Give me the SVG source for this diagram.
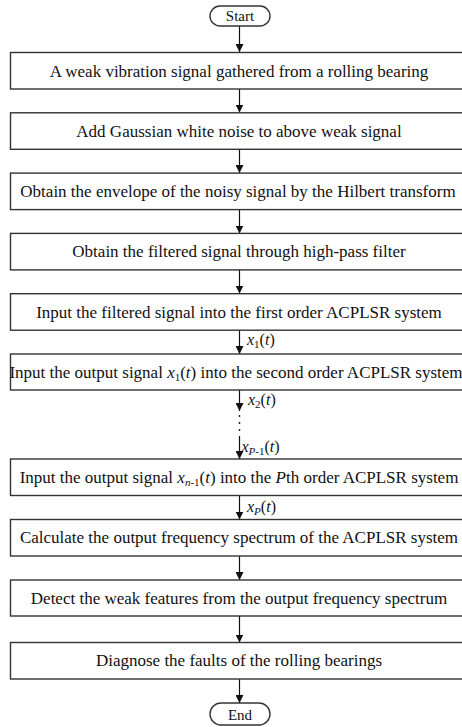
<svg xmlns="http://www.w3.org/2000/svg" width="462" height="727" viewBox="0 0 462 727">
<defs>
<marker id="ah" markerWidth="8" markerHeight="8" refX="6" refY="3" orient="auto" markerUnits="userSpaceOnUse" viewBox="0 0 6 6">
<path d="M0,0 L6,3 L0,6 z" fill="#111"/>
</marker>
<style>
.box{fill:#fff;stroke:#333;stroke-width:1.4}
text{font-family:'Liberation Serif','Times New Roman','DejaVu Serif',serif;fill:#111}
.t{font-size:17px;text-anchor:middle}
.ts{font-size:16px}
.sub{font-size:11px}
.i{font-style:italic}
.c{fill:none;stroke:#111;stroke-width:1.2}
</style>
</defs>
<g id="connectors">
<line class="c" x1="239.5" y1="26" x2="239.5" y2="52" marker-end="url(#ah)"/>
<line class="c" x1="239.5" y1="89" x2="239.5" y2="112.5" marker-end="url(#ah)"/>
<line class="c" x1="239.5" y1="149" x2="239.5" y2="173" marker-end="url(#ah)"/>
<line class="c" x1="239.5" y1="209.5" x2="239.5" y2="233.5" marker-end="url(#ah)"/>
<line class="c" x1="239.5" y1="270" x2="239.5" y2="293.5" marker-end="url(#ah)"/>
<line class="c" x1="239.5" y1="330" x2="239.5" y2="354" marker-end="url(#ah)"/>
<line class="c" x1="239.5" y1="390" x2="239.5" y2="411" marker-end="url(#ah)"/>
<circle cx="239.5" cy="416" r="0.9" fill="#111"/>
<circle cx="239.5" cy="423" r="0.9" fill="#111"/>
<circle cx="239.5" cy="430" r="0.9" fill="#111"/>
<line class="c" x1="239.5" y1="436" x2="239.5" y2="459" marker-end="url(#ah)"/>
<line class="c" x1="239.5" y1="495.5" x2="239.5" y2="519.5" marker-end="url(#ah)"/>
<line class="c" x1="239.5" y1="556" x2="239.5" y2="580" marker-end="url(#ah)"/>
<line class="c" x1="239.5" y1="616" x2="239.5" y2="642.5" marker-end="url(#ah)"/>
<line class="c" x1="239.5" y1="679" x2="239.5" y2="703" marker-end="url(#ah)"/>
<text class="ts" x="247" y="345"><tspan class="i">x</tspan><tspan class="sub" dy="3">1</tspan><tspan dy="-3">(</tspan><tspan class="i">t</tspan>)</text>
<text class="ts" x="248" y="405"><tspan class="i">x</tspan><tspan class="sub" dy="3">2</tspan><tspan dy="-3">(</tspan><tspan class="i">t</tspan>)</text>
<text class="ts" x="241.5" y="452"><tspan class="i">x</tspan><tspan class="sub i" dy="3">P</tspan><tspan class="sub">-1</tspan><tspan dy="-3">(</tspan><tspan class="i">t</tspan>)</text>
<text class="ts" x="247" y="512"><tspan class="i">x</tspan><tspan class="sub i" dy="3">P</tspan><tspan dy="-3">(</tspan><tspan class="i">t</tspan>)</text>
</g>
<g id="start">
<rect class="box" x="210" y="6" width="60" height="20" rx="10"/>
<text class="t" x="240" y="21" style="font-size:15px">Start</text>
</g>
<g id="n1">
<rect class="box" x="10.5" y="52.5" width="462" height="36.5"/>
<text class="t" x="239" y="76.5">A weak vibration signal gathered from a rolling bearing</text>
</g>
<g id="n2">
<rect class="box" x="10.5" y="112.8" width="462" height="36.5"/>
<text class="t" x="239" y="136.8">Add Gaussian white noise to above weak signal</text>
</g>
<g id="n3">
<rect class="box" x="10.5" y="173.1" width="462" height="36.5"/>
<text class="t" x="238" y="197">Obtain the envelope of the noisy signal by the Hilbert transform</text>
</g>
<g id="n4">
<rect class="box" x="10.5" y="233.4" width="462" height="36.5"/>
<text class="t" x="239" y="257.3">Obtain the filtered signal through high-pass filter</text>
</g>
<g id="n5">
<rect class="box" x="10.5" y="293.7" width="462" height="36.5"/>
<text class="t" x="239" y="317.6">Input the filtered signal into the first order ACPLSR system</text>
</g>
<g id="n6">
<rect class="box" x="10.5" y="354" width="462" height="36"/>
<text class="t" x="236" y="377.6">Input the output signal <tspan class="i">x</tspan><tspan class="sub" dy="3">1</tspan><tspan dy="-3">(</tspan><tspan class="i">t</tspan>) into the second order ACPLSR system</text>
</g>
<g id="n7">
<rect class="box" x="10.5" y="459" width="462" height="36.5"/>
<text class="t" x="239" y="482.8">Input the output signal <tspan class="i">x</tspan><tspan class="sub i" dy="3">n</tspan><tspan class="sub">-1</tspan><tspan dy="-3">(</tspan><tspan class="i">t</tspan>) into the <tspan class="i">P</tspan>th order ACPLSR system</text>
</g>
<g id="n8">
<rect class="box" x="10.5" y="519.5" width="462" height="36.5"/>
<text class="t" x="239" y="543.3">Calculate the output frequency spectrum of the ACPLSR system</text>
</g>
<g id="n9">
<rect class="box" x="10.5" y="580" width="462" height="36"/>
<text class="t" x="239" y="603.6">Detect the weak features from the output frequency spectrum</text>
</g>
<g id="n10">
<rect class="box" x="10.5" y="642.5" width="462" height="36.5"/>
<text class="t" x="239" y="666.3">Diagnose the faults of the rolling bearings</text>
</g>
<g id="end">
<rect class="box" x="210" y="703" width="60" height="22" rx="11"/>
<text class="t" x="240" y="719.5" style="font-size:15px">End</text>
</g>
</svg>
